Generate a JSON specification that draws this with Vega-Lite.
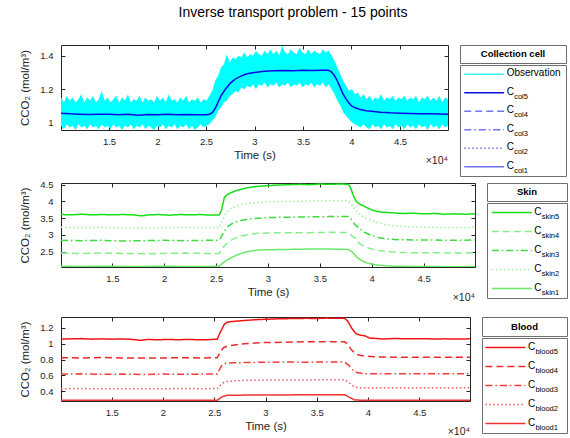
{
"$schema": "https://vega.github.io/schema/vega-lite/v6.json",
"padding": {"left": 18, "top": 6, "right": 2, "bottom": 0},
"title": {"text": "Inverse transport problem - 15 points", "fontSize": 14, "fontWeight": "normal", "color": "#000000", "font": "Liberation Sans", "anchor": "middle", "offset": 24},
"config": {
  "font": "Liberation Sans",
  "view": {"stroke": "#262626"},
  "axis": {"grid": false, "domain": false, "tickColor": "#262626", "tickSize": -4, "labelColor": "#262626", "labelFontSize": 9.5, "labelFont": "Liberation Sans", "titleFont": "Liberation Sans", "titleColor": "#262626", "titleFontSize": 11.5, "titleFontWeight": "normal"}
},
"datasets": {
  "obs": [
    {"t":10050,"lo":0.98,"hi":1.15},{"t":10350,"lo":0.96,"hi":1.12},{"t":10650,"lo":0.99,"hi":1.16},{"t":10950,"lo":0.97,"hi":1.13},{"t":11250,"lo":0.98,"hi":1.15},{"t":11550,"lo":0.955,"hi":1.12},{"t":11850,"lo":0.99,"hi":1.14},{"t":12150,"lo":0.97,"hi":1.17},{"t":12450,"lo":0.98,"hi":1.12},{"t":12750,"lo":0.96,"hi":1.15},{"t":13050,"lo":0.99,"hi":1.13},{"t":13350,"lo":0.97,"hi":1.16},{"t":13650,"lo":0.98,"hi":1.12},{"t":13950,"lo":0.96,"hi":1.14},{"t":14250,"lo":0.99,"hi":1.19},{"t":14550,"lo":0.97,"hi":1.13},{"t":14850,"lo":0.98,"hi":1.15},{"t":15150,"lo":0.96,"hi":1.12},{"t":15450,"lo":0.99,"hi":1.14},{"t":15750,"lo":0.97,"hi":1.16},{"t":16050,"lo":0.98,"hi":1.12},{"t":16350,"lo":0.955,"hi":1.15},{"t":16650,"lo":0.98,"hi":1.13},{"t":16950,"lo":0.97,"hi":1.17},{"t":17250,"lo":0.99,"hi":1.12},{"t":17550,"lo":0.96,"hi":1.14},{"t":17850,"lo":0.98,"hi":1.13},{"t":18150,"lo":0.97,"hi":1.16},{"t":18450,"lo":0.99,"hi":1.12},{"t":18750,"lo":0.96,"hi":1.15},{"t":19050,"lo":0.98,"hi":1.13},{"t":19350,"lo":0.97,"hi":1.14},{"t":19650,"lo":0.955,"hi":1.12},{"t":19950,"lo":0.98,"hi":1.16},{"t":20250,"lo":0.97,"hi":1.13},{"t":20550,"lo":0.99,"hi":1.15},{"t":20850,"lo":0.96,"hi":1.12},{"t":21150,"lo":0.98,"hi":1.17},{"t":21450,"lo":0.97,"hi":1.13},{"t":21750,"lo":0.99,"hi":1.14},{"t":22050,"lo":0.96,"hi":1.12},{"t":22350,"lo":0.98,"hi":1.15},{"t":22650,"lo":0.97,"hi":1.13},{"t":22950,"lo":0.99,"hi":1.16},{"t":23250,"lo":0.96,"hi":1.12},{"t":23550,"lo":0.98,"hi":1.14},{"t":23850,"lo":0.955,"hi":1.13},{"t":24150,"lo":0.97,"hi":1.15},{"t":24450,"lo":0.99,"hi":1.12},{"t":24750,"lo":0.97,"hi":1.14},{"t":25050,"lo":0.98,"hi":1.13},{"t":25350,"lo":0.99,"hi":1.16},
    {"t":25650,"lo":1.01,"hi":1.19},{"t":25950,"lo":1.03,"hi":1.25},{"t":26250,"lo":1.07,"hi":1.28},{"t":26550,"lo":1.09,"hi":1.33},{"t":26850,"lo":1.12,"hi":1.35},{"t":27150,"lo":1.13,"hi":1.41},{"t":27450,"lo":1.16,"hi":1.36},{"t":27750,"lo":1.17,"hi":1.39},{"t":28050,"lo":1.19,"hi":1.38},{"t":28350,"lo":1.18,"hi":1.4},{"t":28650,"lo":1.21,"hi":1.39},{"t":28950,"lo":1.2,"hi":1.42},{"t":29250,"lo":1.22,"hi":1.39},{"t":29550,"lo":1.21,"hi":1.41},{"t":29850,"lo":1.23,"hi":1.4},{"t":30150,"lo":1.2,"hi":1.43},{"t":30450,"lo":1.23,"hi":1.41},{"t":30750,"lo":1.22,"hi":1.4},{"t":31050,"lo":1.24,"hi":1.43},{"t":31350,"lo":1.21,"hi":1.41},{"t":31650,"lo":1.23,"hi":1.44},{"t":31950,"lo":1.22,"hi":1.41},{"t":32250,"lo":1.24,"hi":1.43},{"t":32550,"lo":1.21,"hi":1.4},{"t":32850,"lo":1.23,"hi":1.46},{"t":33150,"lo":1.22,"hi":1.42},{"t":33450,"lo":1.24,"hi":1.41},{"t":33750,"lo":1.21,"hi":1.44},{"t":34050,"lo":1.23,"hi":1.42},{"t":34350,"lo":1.22,"hi":1.41},{"t":34650,"lo":1.24,"hi":1.45},{"t":34950,"lo":1.21,"hi":1.42},{"t":35250,"lo":1.23,"hi":1.41},{"t":35550,"lo":1.22,"hi":1.44},{"t":35850,"lo":1.24,"hi":1.41},{"t":36150,"lo":1.21,"hi":1.43},{"t":36450,"lo":1.23,"hi":1.42},{"t":36750,"lo":1.22,"hi":1.41},{"t":37050,"lo":1.24,"hi":1.44},{"t":37350,"lo":1.21,"hi":1.42},{"t":37650,"lo":1.23,"hi":1.43},{"t":37950,"lo":1.2,"hi":1.4},{"t":38250,"lo":1.17,"hi":1.37},{"t":38550,"lo":1.13,"hi":1.33},{"t":38850,"lo":1.1,"hi":1.29},{"t":39150,"lo":1.06,"hi":1.25},{"t":39450,"lo":1.04,"hi":1.22},{"t":39750,"lo":1.02,"hi":1.19},{"t":40050,"lo":1.0,"hi":1.2},{"t":40350,"lo":0.99,"hi":1.17},{"t":40650,"lo":0.98,"hi":1.18},{"t":40950,"lo":0.97,"hi":1.15},{"t":41250,"lo":0.99,"hi":1.17},{"t":41550,"lo":0.97,"hi":1.14},{"t":41850,"lo":0.96,"hi":1.16},{"t":42150,"lo":0.99,"hi":1.13},{"t":42450,"lo":0.97,"hi":1.15},{"t":42750,"lo":0.98,"hi":1.14},{"t":43050,"lo":0.96,"hi":1.17},{"t":43350,"lo":0.99,"hi":1.13},{"t":43650,"lo":0.97,"hi":1.15},{"t":43950,"lo":0.98,"hi":1.14},{"t":44250,"lo":0.96,"hi":1.16},{"t":44550,"lo":0.99,"hi":1.13},{"t":44850,"lo":0.97,"hi":1.15},{"t":45150,"lo":0.98,"hi":1.14},{"t":45450,"lo":0.96,"hi":1.16},{"t":45750,"lo":0.99,"hi":1.13},{"t":46050,"lo":0.97,"hi":1.15},{"t":46350,"lo":0.98,"hi":1.14},{"t":46650,"lo":0.96,"hi":1.16},{"t":46950,"lo":0.99,"hi":1.12},{"t":47250,"lo":0.97,"hi":1.15},{"t":47550,"lo":0.98,"hi":1.14},{"t":47850,"lo":0.955,"hi":1.16},{"t":48150,"lo":0.99,"hi":1.13},{"t":48450,"lo":0.97,"hi":1.15},{"t":48750,"lo":0.98,"hi":1.13},{"t":49050,"lo":0.96,"hi":1.16},{"t":49350,"lo":0.99,"hi":1.12},{"t":49650,"lo":0.97,"hi":1.15},{"t":49950,"lo":0.98,"hi":1.14}
  ],
  "col5": [
    {"t":10050,"v":1.056},{"t":11000,"v":1.052},{"t":12000,"v":1.05},{"t":13000,"v":1.048},{"t":14000,"v":1.05},{"t":15000,"v":1.049},{"t":16000,"v":1.047},{"t":17000,"v":1.05},{"t":18000,"v":1.044},{"t":19000,"v":1.048},{"t":20000,"v":1.047},{"t":21000,"v":1.049},{"t":22000,"v":1.046},{"t":23000,"v":1.048},{"t":24000,"v":1.046},{"t":25000,"v":1.047},{"t":25400,"v":1.05},{"t":25700,"v":1.062},{"t":26000,"v":1.09},{"t":26300,"v":1.13},{"t":26600,"v":1.165},{"t":27000,"v":1.2},{"t":27500,"v":1.235},{"t":28000,"v":1.26},{"t":28500,"v":1.275},{"t":29000,"v":1.288},{"t":29500,"v":1.295},{"t":30000,"v":1.3},{"t":31000,"v":1.307},{"t":32000,"v":1.31},{"t":33000,"v":1.312},{"t":34000,"v":1.311},{"t":35000,"v":1.313},{"t":36000,"v":1.312},{"t":37000,"v":1.314},{"t":37600,"v":1.313},{"t":37900,"v":1.305},{"t":38200,"v":1.285},{"t":38500,"v":1.255},{"t":38800,"v":1.215},{"t":39100,"v":1.175},{"t":39400,"v":1.145},{"t":39700,"v":1.12},{"t":40000,"v":1.1},{"t":40400,"v":1.088},{"t":40800,"v":1.08},{"t":41500,"v":1.07},{"t":42300,"v":1.066},{"t":43000,"v":1.062},{"t":44000,"v":1.058},{"t":45000,"v":1.056},{"t":46000,"v":1.054},{"t":47000,"v":1.052},{"t":48000,"v":1.052},{"t":49000,"v":1.051},{"t":49950,"v":1.05}
  ],
  "skin": [
    {"s":"skin5","t":10050,"v":3.61},{"s":"skin5","t":11000,"v":3.6},{"s":"skin5","t":12000,"v":3.62},{"s":"skin5","t":13000,"v":3.6},{"s":"skin5","t":14000,"v":3.61},{"s":"skin5","t":15000,"v":3.6},{"s":"skin5","t":16000,"v":3.61},{"s":"skin5","t":17000,"v":3.6},{"s":"skin5","t":17800,"v":3.57},{"s":"skin5","t":18500,"v":3.6},{"s":"skin5","t":19500,"v":3.61},{"s":"skin5","t":20500,"v":3.59},{"s":"skin5","t":21500,"v":3.61},{"s":"skin5","t":22500,"v":3.6},{"s":"skin5","t":23500,"v":3.61},{"s":"skin5","t":24500,"v":3.59},{"s":"skin5","t":25300,"v":3.6},{"s":"skin5","t":25500,"v":3.72},{"s":"skin5","t":25800,"v":4.12},{"s":"skin5","t":26100,"v":4.21},{"s":"skin5","t":26500,"v":4.27},{"s":"skin5","t":27000,"v":4.33},{"s":"skin5","t":27500,"v":4.37},{"s":"skin5","t":28000,"v":4.41},{"s":"skin5","t":28500,"v":4.43},{"s":"skin5","t":29000,"v":4.45},{"s":"skin5","t":30000,"v":4.47},{"s":"skin5","t":31000,"v":4.49},{"s":"skin5","t":32000,"v":4.5},{"s":"skin5","t":33000,"v":4.51},{"s":"skin5","t":34000,"v":4.5},{"s":"skin5","t":35000,"v":4.52},{"s":"skin5","t":36000,"v":4.51},{"s":"skin5","t":37000,"v":4.52},{"s":"skin5","t":37700,"v":4.51},{"s":"skin5","t":37900,"v":4.45},{"s":"skin5","t":38200,"v":4.2},{"s":"skin5","t":38500,"v":4.0},{"s":"skin5","t":38900,"v":3.91},{"s":"skin5","t":39500,"v":3.82},{"s":"skin5","t":40000,"v":3.75},{"s":"skin5","t":40500,"v":3.7},{"s":"skin5","t":41000,"v":3.68},{"s":"skin5","t":42000,"v":3.66},{"s":"skin5","t":43000,"v":3.64},{"s":"skin5","t":44000,"v":3.65},{"s":"skin5","t":45000,"v":3.63},{"s":"skin5","t":46000,"v":3.64},{"s":"skin5","t":47000,"v":3.62},{"s":"skin5","t":48000,"v":3.63},{"s":"skin5","t":49000,"v":3.62},{"s":"skin5","t":49950,"v":3.63},
    {"s":"skin2","t":10050,"v":3.23},{"s":"skin2","t":12000,"v":3.22},{"s":"skin2","t":14000,"v":3.23},{"s":"skin2","t":16000,"v":3.21},{"s":"skin2","t":18000,"v":3.2},{"s":"skin2","t":20000,"v":3.22},{"s":"skin2","t":22000,"v":3.23},{"s":"skin2","t":24000,"v":3.22},{"s":"skin2","t":25300,"v":3.22},{"s":"skin2","t":25600,"v":3.45},{"s":"skin2","t":26000,"v":3.68},{"s":"skin2","t":26400,"v":3.78},{"s":"skin2","t":27000,"v":3.87},{"s":"skin2","t":27500,"v":3.91},{"s":"skin2","t":28000,"v":3.94},{"s":"skin2","t":29000,"v":3.97},{"s":"skin2","t":30000,"v":3.99},{"s":"skin2","t":32000,"v":4.0},{"s":"skin2","t":34000,"v":4.01},{"s":"skin2","t":36000,"v":4.02},{"s":"skin2","t":37700,"v":4.02},{"s":"skin2","t":38000,"v":3.95},{"s":"skin2","t":38400,"v":3.75},{"s":"skin2","t":38800,"v":3.62},{"s":"skin2","t":39300,"v":3.52},{"s":"skin2","t":40000,"v":3.43},{"s":"skin2","t":40700,"v":3.36},{"s":"skin2","t":41500,"v":3.3},{"s":"skin2","t":42500,"v":3.26},{"s":"skin2","t":44000,"v":3.24},{"s":"skin2","t":46000,"v":3.23},{"s":"skin2","t":48000,"v":3.22},{"s":"skin2","t":49950,"v":3.23},
    {"s":"skin3","t":10050,"v":2.84},{"s":"skin3","t":12000,"v":2.83},{"s":"skin3","t":14000,"v":2.84},{"s":"skin3","t":16000,"v":2.82},{"s":"skin3","t":18000,"v":2.83},{"s":"skin3","t":20000,"v":2.84},{"s":"skin3","t":22000,"v":2.83},{"s":"skin3","t":24000,"v":2.84},{"s":"skin3","t":25300,"v":2.84},{"s":"skin3","t":25600,"v":3.0},{"s":"skin3","t":26000,"v":3.22},{"s":"skin3","t":26500,"v":3.33},{"s":"skin3","t":27000,"v":3.4},{"s":"skin3","t":27500,"v":3.44},{"s":"skin3","t":28000,"v":3.47},{"s":"skin3","t":29000,"v":3.5},{"s":"skin3","t":30000,"v":3.52},{"s":"skin3","t":32000,"v":3.53},{"s":"skin3","t":34000,"v":3.54},{"s":"skin3","t":36000,"v":3.55},{"s":"skin3","t":37700,"v":3.55},{"s":"skin3","t":38000,"v":3.48},{"s":"skin3","t":38400,"v":3.3},{"s":"skin3","t":38800,"v":3.2},{"s":"skin3","t":39300,"v":3.08},{"s":"skin3","t":40000,"v":2.98},{"s":"skin3","t":40700,"v":2.92},{"s":"skin3","t":41500,"v":2.88},{"s":"skin3","t":42500,"v":2.86},{"s":"skin3","t":44000,"v":2.85},{"s":"skin3","t":46000,"v":2.85},{"s":"skin3","t":48000,"v":2.84},{"s":"skin3","t":49950,"v":2.85},
    {"s":"skin4","t":10050,"v":2.46},{"s":"skin4","t":12000,"v":2.45},{"s":"skin4","t":14000,"v":2.46},{"s":"skin4","t":16000,"v":2.45},{"s":"skin4","t":18000,"v":2.44},{"s":"skin4","t":20000,"v":2.45},{"s":"skin4","t":22000,"v":2.46},{"s":"skin4","t":24000,"v":2.45},{"s":"skin4","t":25300,"v":2.45},{"s":"skin4","t":25500,"v":2.55},{"s":"skin4","t":25800,"v":2.68},{"s":"skin4","t":26300,"v":2.82},{"s":"skin4","t":27000,"v":2.93},{"s":"skin4","t":27500,"v":2.98},{"s":"skin4","t":28000,"v":3.01},{"s":"skin4","t":29000,"v":3.05},{"s":"skin4","t":30000,"v":3.06},{"s":"skin4","t":32000,"v":3.07},{"s":"skin4","t":34000,"v":3.07},{"s":"skin4","t":36000,"v":3.08},{"s":"skin4","t":37700,"v":3.07},{"s":"skin4","t":38000,"v":3.0},{"s":"skin4","t":38400,"v":2.9},{"s":"skin4","t":38800,"v":2.75},{"s":"skin4","t":39300,"v":2.65},{"s":"skin4","t":40000,"v":2.58},{"s":"skin4","t":40700,"v":2.54},{"s":"skin4","t":41500,"v":2.5},{"s":"skin4","t":42500,"v":2.48},{"s":"skin4","t":44000,"v":2.47},{"s":"skin4","t":46000,"v":2.47},{"s":"skin4","t":48000,"v":2.46},{"s":"skin4","t":49950,"v":2.47},
    {"s":"skin1","t":10050,"v":2.07},{"s":"skin1","t":12000,"v":2.06},{"s":"skin1","t":14000,"v":2.07},{"s":"skin1","t":16000,"v":2.06},{"s":"skin1","t":18000,"v":2.06},{"s":"skin1","t":20000,"v":2.07},{"s":"skin1","t":22000,"v":2.06},{"s":"skin1","t":24000,"v":2.06},{"s":"skin1","t":25300,"v":2.07},{"s":"skin1","t":25800,"v":2.2},{"s":"skin1","t":26300,"v":2.3},{"s":"skin1","t":27000,"v":2.4},{"s":"skin1","t":27500,"v":2.46},{"s":"skin1","t":28000,"v":2.5},{"s":"skin1","t":29000,"v":2.55},{"s":"skin1","t":30000,"v":2.56},{"s":"skin1","t":32000,"v":2.57},{"s":"skin1","t":34000,"v":2.58},{"s":"skin1","t":36000,"v":2.58},{"s":"skin1","t":37700,"v":2.57},{"s":"skin1","t":38100,"v":2.5},{"s":"skin1","t":38600,"v":2.33},{"s":"skin1","t":39000,"v":2.24},{"s":"skin1","t":39600,"v":2.16},{"s":"skin1","t":40200,"v":2.12},{"s":"skin1","t":41000,"v":2.09},{"s":"skin1","t":42000,"v":2.07},{"s":"skin1","t":44000,"v":2.06},{"s":"skin1","t":46000,"v":2.06},{"s":"skin1","t":48000,"v":2.05},{"s":"skin1","t":49950,"v":2.06}
  ],
  "blood": [
    {"s":"blood5","t":10050,"v":1.06},{"s":"blood5","t":11000,"v":1.062},{"s":"blood5","t":12000,"v":1.065},{"s":"blood5","t":13000,"v":1.058},{"s":"blood5","t":14000,"v":1.062},{"s":"blood5","t":15000,"v":1.058},{"s":"blood5","t":16000,"v":1.06},{"s":"blood5","t":17000,"v":1.055},{"s":"blood5","t":17800,"v":1.042},{"s":"blood5","t":18500,"v":1.055},{"s":"blood5","t":19500,"v":1.05},{"s":"blood5","t":20500,"v":1.055},{"s":"blood5","t":21500,"v":1.05},{"s":"blood5","t":22500,"v":1.055},{"s":"blood5","t":23500,"v":1.05},{"s":"blood5","t":24500,"v":1.052},{"s":"blood5","t":25300,"v":1.058},{"s":"blood5","t":25600,"v":1.15},{"s":"blood5","t":26000,"v":1.25},{"s":"blood5","t":26300,"v":1.275},{"s":"blood5","t":27000,"v":1.285},{"s":"blood5","t":28000,"v":1.295},{"s":"blood5","t":29000,"v":1.305},{"s":"blood5","t":30000,"v":1.31},{"s":"blood5","t":31000,"v":1.315},{"s":"blood5","t":32000,"v":1.318},{"s":"blood5","t":33000,"v":1.32},{"s":"blood5","t":34000,"v":1.322},{"s":"blood5","t":35000,"v":1.32},{"s":"blood5","t":36000,"v":1.325},{"s":"blood5","t":37000,"v":1.322},{"s":"blood5","t":37700,"v":1.322},{"s":"blood5","t":38000,"v":1.29},{"s":"blood5","t":38400,"v":1.2},{"s":"blood5","t":38800,"v":1.13},{"s":"blood5","t":39200,"v":1.11},{"s":"blood5","t":39700,"v":1.1},{"s":"blood5","t":40200,"v":1.07},{"s":"blood5","t":40700,"v":1.068},{"s":"blood5","t":41500,"v":1.06},{"s":"blood5","t":42500,"v":1.066},{"s":"blood5","t":43500,"v":1.064},{"s":"blood5","t":44500,"v":1.062},{"s":"blood5","t":45500,"v":1.064},{"s":"blood5","t":46500,"v":1.06},{"s":"blood5","t":47500,"v":1.062},{"s":"blood5","t":48500,"v":1.06},{"s":"blood5","t":49950,"v":1.062},
    {"s":"blood4","t":10050,"v":0.822},{"s":"blood4","t":12000,"v":0.82},{"s":"blood4","t":14000,"v":0.825},{"s":"blood4","t":16000,"v":0.82},{"s":"blood4","t":18000,"v":0.818},{"s":"blood4","t":20000,"v":0.82},{"s":"blood4","t":22000,"v":0.822},{"s":"blood4","t":24000,"v":0.82},{"s":"blood4","t":25300,"v":0.822},{"s":"blood4","t":25600,"v":0.9},{"s":"blood4","t":25900,"v":0.95},{"s":"blood4","t":26300,"v":0.97},{"s":"blood4","t":27000,"v":0.985},{"s":"blood4","t":28000,"v":1.0},{"s":"blood4","t":29000,"v":1.01},{"s":"blood4","t":30000,"v":1.015},{"s":"blood4","t":32000,"v":1.02},{"s":"blood4","t":34000,"v":1.025},{"s":"blood4","t":36000,"v":1.025},{"s":"blood4","t":37700,"v":1.025},{"s":"blood4","t":38000,"v":1.0},{"s":"blood4","t":38400,"v":0.92},{"s":"blood4","t":38800,"v":0.87},{"s":"blood4","t":39300,"v":0.85},{"s":"blood4","t":40000,"v":0.84},{"s":"blood4","t":41000,"v":0.832},{"s":"blood4","t":42500,"v":0.83},{"s":"blood4","t":44000,"v":0.828},{"s":"blood4","t":46000,"v":0.83},{"s":"blood4","t":48000,"v":0.83},{"s":"blood4","t":49950,"v":0.83},
    {"s":"blood3","t":10050,"v":0.615},{"s":"blood3","t":12000,"v":0.618},{"s":"blood3","t":14000,"v":0.612},{"s":"blood3","t":16000,"v":0.615},{"s":"blood3","t":18000,"v":0.61},{"s":"blood3","t":20000,"v":0.615},{"s":"blood3","t":22000,"v":0.613},{"s":"blood3","t":24000,"v":0.615},{"s":"blood3","t":25300,"v":0.615},{"s":"blood3","t":25700,"v":0.72},{"s":"blood3","t":26100,"v":0.752},{"s":"blood3","t":27000,"v":0.758},{"s":"blood3","t":28000,"v":0.762},{"s":"blood3","t":30000,"v":0.765},{"s":"blood3","t":32000,"v":0.768},{"s":"blood3","t":34000,"v":0.766},{"s":"blood3","t":36000,"v":0.768},{"s":"blood3","t":37700,"v":0.768},{"s":"blood3","t":38100,"v":0.73},{"s":"blood3","t":38500,"v":0.67},{"s":"blood3","t":38900,"v":0.635},{"s":"blood3","t":39500,"v":0.622},{"s":"blood3","t":40500,"v":0.618},{"s":"blood3","t":42000,"v":0.62},{"s":"blood3","t":44000,"v":0.618},{"s":"blood3","t":46000,"v":0.62},{"s":"blood3","t":48000,"v":0.618},{"s":"blood3","t":49950,"v":0.62},
    {"s":"blood2","t":10050,"v":0.43},{"s":"blood2","t":12000,"v":0.432},{"s":"blood2","t":14000,"v":0.428},{"s":"blood2","t":16000,"v":0.43},{"s":"blood2","t":18000,"v":0.428},{"s":"blood2","t":20000,"v":0.43},{"s":"blood2","t":22000,"v":0.432},{"s":"blood2","t":24000,"v":0.43},{"s":"blood2","t":25300,"v":0.432},{"s":"blood2","t":25800,"v":0.5},{"s":"blood2","t":26200,"v":0.52},{"s":"blood2","t":27000,"v":0.53},{"s":"blood2","t":28000,"v":0.535},{"s":"blood2","t":30000,"v":0.54},{"s":"blood2","t":32000,"v":0.542},{"s":"blood2","t":34000,"v":0.54},{"s":"blood2","t":36000,"v":0.545},{"s":"blood2","t":37700,"v":0.545},{"s":"blood2","t":38200,"v":0.5},{"s":"blood2","t":38700,"v":0.45},{"s":"blood2","t":39300,"v":0.442},{"s":"blood2","t":40500,"v":0.44},{"s":"blood2","t":42000,"v":0.442},{"s":"blood2","t":44000,"v":0.44},{"s":"blood2","t":46000,"v":0.442},{"s":"blood2","t":48000,"v":0.44},{"s":"blood2","t":49950,"v":0.442},
    {"s":"blood1","t":10050,"v":0.283},{"s":"blood1","t":12000,"v":0.283},{"s":"blood1","t":14000,"v":0.282},{"s":"blood1","t":16000,"v":0.283},{"s":"blood1","t":18000,"v":0.282},{"s":"blood1","t":20000,"v":0.283},{"s":"blood1","t":22000,"v":0.282},{"s":"blood1","t":24000,"v":0.283},{"s":"blood1","t":25300,"v":0.283},{"s":"blood1","t":25800,"v":0.33},{"s":"blood1","t":26200,"v":0.345},{"s":"blood1","t":27000,"v":0.348},{"s":"blood1","t":30000,"v":0.35},{"s":"blood1","t":33000,"v":0.352},{"s":"blood1","t":36000,"v":0.354},{"s":"blood1","t":37700,"v":0.354},{"s":"blood1","t":38200,"v":0.32},{"s":"blood1","t":38700,"v":0.287},{"s":"blood1","t":39500,"v":0.283},{"s":"blood1","t":42000,"v":0.284},{"s":"blood1","t":46000,"v":0.283},{"s":"blood1","t":49950,"v":0.284}
  ],
  "legCol": [
    {"s":"obs","main":"Observation","sub":""},{"s":"col5","main":"C","sub":"col5"},{"s":"col4","main":"C","sub":"col4"},{"s":"col3","main":"C","sub":"col3"},{"s":"col2","main":"C","sub":"col2"},{"s":"col1","main":"C","sub":"col1"}
  ],
  "legSkin": [
    {"s":"skin5","main":"C","sub":"skin5"},{"s":"skin4","main":"C","sub":"skin4"},{"s":"skin3","main":"C","sub":"skin3"},{"s":"skin2","main":"C","sub":"skin2"},{"s":"skin1","main":"C","sub":"skin1"}
  ],
  "legBlood": [
    {"s":"blood5","main":"C","sub":"blood5"},{"s":"blood4","main":"C","sub":"blood4"},{"s":"blood3","main":"C","sub":"blood3"},{"s":"blood2","main":"C","sub":"blood2"},{"s":"blood1","main":"C","sub":"blood1"}
  ],
  "mult": [{"label":"×10⁴"}]
},
"resolve": {"scale": {"color": "independent", "strokeDash": "independent"}},
"spacing": 12,
"vconcat": [
 {
  "resolve": {"scale": {"color": "independent", "strokeDash": "independent"}},
  "spacing": 2,
  "vconcat": [
   {
    "spacing": 10,
    "hconcat": [
     {
      "width": 387, "height": 85,
      "resolve": {"axis": {"x": "independent", "y": "independent"}},
      "layer": [
       {"data": {"name": "obs"}, "mark": {"type": "area", "color": "#00ffff", "clip": true},
        "encoding": {
         "x": {"field": "t", "type": "quantitative", "scale": {"domain": [10050, 49950], "nice": false, "zero": false}, "axis": {"orient": "bottom", "title": "Time (s)", "values": [15000,20000,25000,30000,35000,40000,45000], "labelExpr": "datum.value/10000 + ''", "labelPadding": 10, "titlePadding": 4}},
         "y": {"field": "lo", "type": "quantitative", "scale": {"domain": [0.955, 1.465], "nice": false, "zero": false}, "axis": {"orient": "left", "title": "CCO₂ (mol/m³)", "values": [1, 1.2, 1.4], "labelExpr": "datum.value + ''", "labelPadding": 12, "minExtent": 23, "maxExtent": 23, "titlePadding": 8}},
         "y2": {"field": "hi"}
        }},
       {"data": {"name": "col5"}, "mark": {"type": "line", "color": "#0c0ce6", "strokeWidth": 1.5, "clip": true},
        "encoding": {
         "x": {"field": "t", "type": "quantitative", "axis": {"orient": "top", "title": null, "labels": false, "values": [15000,20000,25000,30000,35000,40000,45000], "minExtent": 0, "maxExtent": 0}},
         "y": {"field": "v", "type": "quantitative", "axis": {"orient": "right", "title": null, "labels": false, "values": [1, 1.2, 1.4], "minExtent": 0, "maxExtent": 0}}
        }},
       {"data": {"name": "mult"}, "mark": {"type": "text", "align": "right", "baseline": "middle", "fontSize": 10.5, "color": "#262626", "dy": 31},
        "encoding": {"x": {"datum": 49950, "type": "quantitative", "axis": null}, "y": {"datum": 0.955, "type": "quantitative", "axis": null}, "text": {"field": "label"}}}
      ]
     },
     {
      "spacing": 0,
      "vconcat": [
       {"width": 106, "height": 18, "view": {"stroke": "#6f6f6f"}, "data": {"values": [{"label": "Collection cell"}]},
        "mark": {"type": "text", "fontWeight": "bold", "fontSize": 9.5, "color": "#000000"},
        "encoding": {"x": {"field": "label", "type": "nominal", "axis": null}, "y": {"field": "label", "type": "nominal", "axis": null}, "text": {"field": "label"}}},
       {"width": 106, "height": 111, "view": {"stroke": "#6f6f6f"}, "data": {"name": "legCol"},
        "layer": [
         {"mark": {"type": "rule", "strokeWidth": 1.5},
          "encoding": {
           "x": {"datum": 0.04, "type": "quantitative", "scale": {"domain": [0, 1]}, "axis": null},
           "x2": {"datum": 0.415},
           "y": {"field": "s", "type": "nominal", "scale": {"type": "point", "domain": ["obs","col5","col4","col3","col2","col1"], "padding": 0.5}, "axis": null},
           "color": {"field": "s", "type": "nominal", "scale": {"domain": ["obs","col5","col4","col3","col2","col1"], "range": ["#33f3f3","#0c0ce6","#7272f2","#7272f2","#7272f2","#7272f2"]}, "legend": null},
           "strokeDash": {"field": "s", "type": "nominal", "scale": {"domain": ["obs","col5","col4","col3","col2","col1"], "range": [[1,0],[1,0],[7,4],[7,3,1.5,3],[1.5,2.5],[1,0]]}, "legend": null}
          }},
         {"mark": {"type": "text", "align": "left", "baseline": "middle", "fontSize": 10, "dy": -1},
          "encoding": {"x": {"datum": 0.44, "type": "quantitative"}, "y": {"field": "s", "type": "nominal"}, "text": {"field": "main"}}},
         {"mark": {"type": "text", "align": "left", "baseline": "middle", "fontSize": 7.5, "dx": 7.5, "dy": 4},
          "encoding": {"x": {"datum": 0.44, "type": "quantitative"}, "y": {"field": "s", "type": "nominal"}, "text": {"field": "sub"}}}
        ]}
      ]
     }
    ]
   },
   {
    "spacing": 10,
    "hconcat": [
     {
      "width": 414, "height": 84,
      "resolve": {"axis": {"x": "independent", "y": "independent"}},
      "layer": [
       {"data": {"name": "skin"}, "mark": {"type": "line", "strokeWidth": 1.5, "clip": true},
        "encoding": {
         "x": {"field": "t", "type": "quantitative", "scale": {"domain": [10050, 49950], "nice": false, "zero": false}, "axis": {"orient": "bottom", "title": "Time (s)", "values": [15000,20000,25000,30000,35000,40000,45000], "labelExpr": "datum.value/10000 + ''", "labelPadding": 10, "titlePadding": 4}},
         "y": {"field": "v", "type": "quantitative", "scale": {"domain": [2.045, 4.55], "nice": false, "zero": false}, "axis": {"orient": "left", "title": "CCO₂ (mol/m³)", "values": [2.5, 3, 3.5, 4, 4.5], "labelExpr": "datum.value + ''", "labelPadding": 12, "minExtent": 23, "maxExtent": 23, "titlePadding": 8}},
         "color": {"field": "s", "type": "nominal", "scale": {"domain": ["skin5","skin4","skin3","skin2","skin1"], "range": ["#14e014","#86ee86","#3ddc3d","#9af29a","#6ae86a"]}, "legend": null},
         "strokeDash": {"field": "s", "type": "nominal", "scale": {"domain": ["skin5","skin4","skin3","skin2","skin1"], "range": [[1,0],[7,4],[7,3,1.5,3],[1.5,2.5],[1,0]]}, "legend": null}
        }},
       {"data": {"name": "skin"}, "mark": {"type": "line", "opacity": 0},
        "encoding": {
         "x": {"field": "t", "type": "quantitative", "axis": {"orient": "top", "title": null, "labels": false, "values": [15000,20000,25000,30000,35000,40000,45000], "minExtent": 0, "maxExtent": 0}},
         "y": {"field": "v", "type": "quantitative", "axis": {"orient": "right", "title": null, "labels": false, "values": [2.5, 3, 3.5, 4, 4.5], "minExtent": 0, "maxExtent": 0}},
         "detail": {"field": "s"}
        }},
       {"data": {"name": "mult"}, "mark": {"type": "text", "align": "right", "baseline": "middle", "fontSize": 10.5, "color": "#262626", "dy": 31},
        "encoding": {"x": {"datum": 49950, "type": "quantitative", "axis": null}, "y": {"datum": 2.045, "type": "quantitative", "axis": null}, "text": {"field": "label"}}}
      ]
     },
     {
      "spacing": 0,
      "vconcat": [
       {"width": 80, "height": 18, "view": {"stroke": "#6f6f6f"}, "data": {"values": [{"label": "Skin"}]},
        "mark": {"type": "text", "fontWeight": "bold", "fontSize": 9.5, "color": "#000000"},
        "encoding": {"x": {"field": "label", "type": "nominal", "axis": null}, "y": {"field": "label", "type": "nominal", "axis": null}, "text": {"field": "label"}}},
       {"width": 80, "height": 95, "view": {"stroke": "#6f6f6f"}, "data": {"name": "legSkin"},
        "layer": [
         {"mark": {"type": "rule", "strokeWidth": 1.5},
          "encoding": {
           "x": {"datum": 0.06, "type": "quantitative", "scale": {"domain": [0, 1]}, "axis": null},
           "x2": {"datum": 0.56},
           "y": {"field": "s", "type": "nominal", "scale": {"type": "point", "domain": ["skin5","skin4","skin3","skin2","skin1"], "padding": 0.5}, "axis": null},
           "color": {"field": "s", "type": "nominal", "scale": {"domain": ["skin5","skin4","skin3","skin2","skin1"], "range": ["#14e014","#86ee86","#3ddc3d","#9af29a","#6ae86a"]}, "legend": null},
           "strokeDash": {"field": "s", "type": "nominal", "scale": {"domain": ["skin5","skin4","skin3","skin2","skin1"], "range": [[1,0],[7,4],[7,3,1.5,3],[1.5,2.5],[1,0]]}, "legend": null}
          }},
         {"mark": {"type": "text", "align": "left", "baseline": "middle", "fontSize": 10, "dy": -1},
          "encoding": {"x": {"datum": 0.59, "type": "quantitative"}, "y": {"field": "s", "type": "nominal"}, "text": {"field": "main"}}},
         {"mark": {"type": "text", "align": "left", "baseline": "middle", "fontSize": 7.5, "dx": 7.5, "dy": 4},
          "encoding": {"x": {"datum": 0.59, "type": "quantitative"}, "y": {"field": "s", "type": "nominal"}, "text": {"field": "sub"}}}
        ]}
      ]
     }
    ]
   }
  ]
 },
 {
  "spacing": 10,
  "hconcat": [
   {
    "width": 409, "height": 84,
    "resolve": {"axis": {"x": "independent", "y": "independent"}},
    "layer": [
     {"data": {"name": "blood"}, "mark": {"type": "line", "strokeWidth": 1.5, "clip": true},
      "encoding": {
       "x": {"field": "t", "type": "quantitative", "scale": {"domain": [10050, 49950], "nice": false, "zero": false}, "axis": {"orient": "bottom", "title": "Time (s)", "values": [15000,20000,25000,30000,35000,40000,45000], "labelExpr": "datum.value/10000 + ''", "labelPadding": 10, "titlePadding": 4}},
       "y": {"field": "v", "type": "quantitative", "scale": {"domain": [0.274, 1.339], "nice": false, "zero": false}, "axis": {"orient": "left", "title": "CCO₂ (mol/m³)", "values": [0.4, 0.6, 0.8, 1, 1.2], "labelExpr": "datum.value + ''", "labelPadding": 12, "minExtent": 23, "maxExtent": 23, "titlePadding": 8}},
       "color": {"field": "s", "type": "nominal", "scale": {"domain": ["blood5","blood4","blood3","blood2","blood1"], "range": ["#f01414","#f02828","#f23c3c","#f45a5a","#f03232"]}, "legend": null},
       "strokeDash": {"field": "s", "type": "nominal", "scale": {"domain": ["blood5","blood4","blood3","blood2","blood1"], "range": [[1,0],[7,4],[7,3,1.5,3],[1.5,2.5],[1,0]]}, "legend": null}
      }},
     {"data": {"name": "blood"}, "mark": {"type": "line", "opacity": 0},
      "encoding": {
       "x": {"field": "t", "type": "quantitative", "axis": {"orient": "top", "title": null, "labels": false, "values": [15000,20000,25000,30000,35000,40000,45000], "minExtent": 0, "maxExtent": 0}},
       "y": {"field": "v", "type": "quantitative", "axis": {"orient": "right", "title": null, "labels": false, "values": [0.4, 0.6, 0.8, 1, 1.2], "minExtent": 0, "maxExtent": 0}},
       "detail": {"field": "s"}
      }},
     {"data": {"name": "mult"}, "mark": {"type": "text", "align": "right", "baseline": "middle", "fontSize": 10.5, "color": "#262626", "dy": 31},
      "encoding": {"x": {"datum": 49950, "type": "quantitative", "axis": null}, "y": {"datum": 0.274, "type": "quantitative", "axis": null}, "text": {"field": "label"}}}
    ]
   },
   {
    "spacing": 0,
    "vconcat": [
     {"width": 85, "height": 19, "view": {"stroke": "#6f6f6f"}, "data": {"values": [{"label": "Blood"}]},
      "mark": {"type": "text", "fontWeight": "bold", "fontSize": 9.5, "color": "#000000"},
      "encoding": {"x": {"field": "label", "type": "nominal", "axis": null}, "y": {"field": "label", "type": "nominal", "axis": null}, "text": {"field": "label"}}},
     {"width": 85, "height": 95, "view": {"stroke": "#6f6f6f"}, "data": {"name": "legBlood"},
      "layer": [
       {"mark": {"type": "rule", "strokeWidth": 1.5},
        "encoding": {
         "x": {"datum": 0.04, "type": "quantitative", "scale": {"domain": [0, 1]}, "axis": null},
         "x2": {"datum": 0.51},
         "y": {"field": "s", "type": "nominal", "scale": {"type": "point", "domain": ["blood5","blood4","blood3","blood2","blood1"], "padding": 0.5}, "axis": null},
         "color": {"field": "s", "type": "nominal", "scale": {"domain": ["blood5","blood4","blood3","blood2","blood1"], "range": ["#f01414","#f02828","#f23c3c","#f45a5a","#f03232"]}, "legend": null},
         "strokeDash": {"field": "s", "type": "nominal", "scale": {"domain": ["blood5","blood4","blood3","blood2","blood1"], "range": [[1,0],[7,4],[7,3,1.5,3],[1.5,2.5],[1,0]]}, "legend": null}
        }},
       {"mark": {"type": "text", "align": "left", "baseline": "middle", "fontSize": 10, "dy": -1},
        "encoding": {"x": {"datum": 0.54, "type": "quantitative"}, "y": {"field": "s", "type": "nominal"}, "text": {"field": "main"}}},
       {"mark": {"type": "text", "align": "left", "baseline": "middle", "fontSize": 7.5, "dx": 7.5, "dy": 4},
        "encoding": {"x": {"datum": 0.54, "type": "quantitative"}, "y": {"field": "s", "type": "nominal"}, "text": {"field": "sub"}}}
      ]}
    ]
   }
  ]
 }
]
}
